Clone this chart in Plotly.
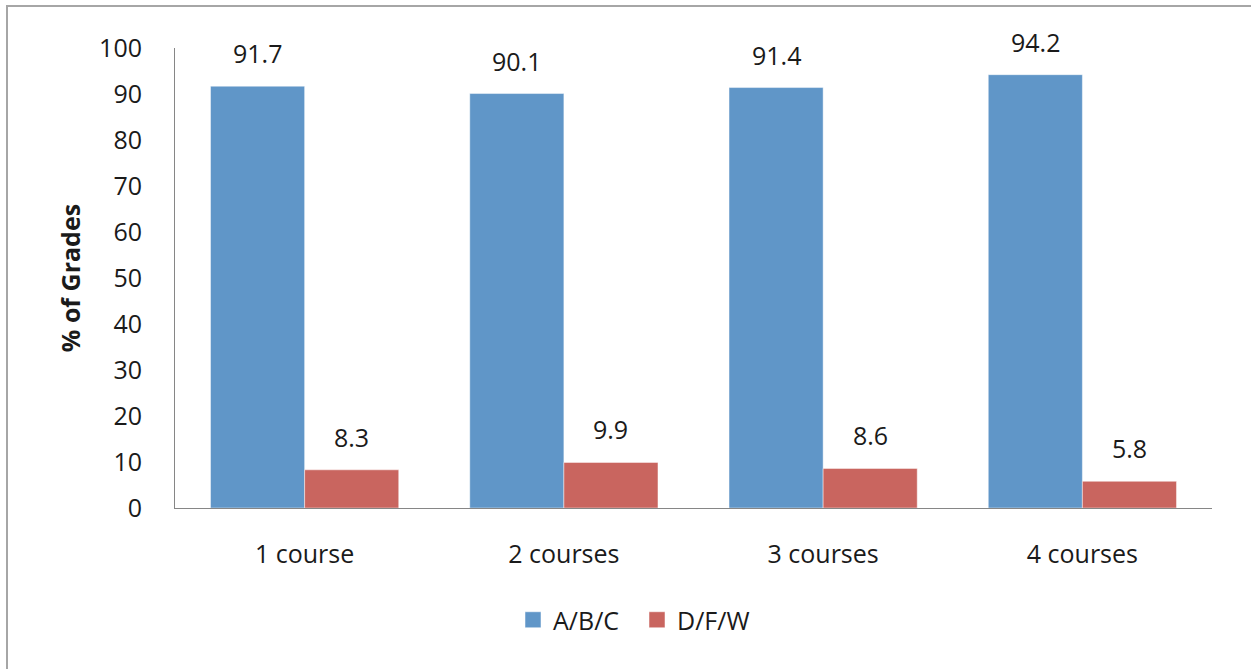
import plotly.graph_objects as go

categories = ["1 course", "2 courses", "3 courses", "4 courses"]
abc_values = [91.7, 90.1, 91.4, 94.2]
dfw_values = [8.3, 9.9, 8.6, 5.8]
series_names = ["A/B/C", "D/F/W"]
y_ticks = [0, 10, 20, 30, 40, 50, 60, 70, 80, 90, 100]

BLUE = "#6096C8"
RED = "#C9655F"
FONT = "Open Sans"
TEXT = "#1a1a1a"
FS = 25

W, H = 1251, 669
ML, MR, MT, MB = 175, 39, 48, 161
plot_w = W - ML - MR
plot_h = H - MT - MB

fig = go.Figure()
for name, vals, col in [(series_names[0], abc_values, BLUE), (series_names[1], dfw_values, RED)]:
    fig.add_trace(go.Bar(
        x=categories, y=vals, name=name, showlegend=False,
        marker=dict(color=col, line=dict(color="rgba(255,255,255,0.45)", width=1)),
    ))
    # legend entry with a larger square swatch
    fig.add_trace(go.Scatter(
        x=[None], y=[None], name=name, mode="markers",
        marker=dict(symbol="square", size=17, color=col,
                    line=dict(color="rgba(255,255,255,0.5)", width=1)),
    ))

# value labels above each bar
bar_px = plot_w / len(categories) * (1 - 0.274) / 2
for vals, sign in [(abc_values, -1), (dfw_values, 1)]:
    for c, v in zip(categories, vals):
        fig.add_annotation(
            x=c, y=v, text=f"{v:.1f}", showarrow=False,
            xshift=sign * bar_px / 2, yshift=33, yanchor="middle",
            font=dict(family=FONT, size=FS, color=TEXT),
        )

# outer frame of the chart area
px_to_x = lambda p: (p - ML) / plot_w
py_to_y = lambda p: 1 - (p - MT) / plot_h
fig.add_shape(
    type="rect", xref="paper", yref="paper",
    x0=px_to_x(7), x1=px_to_x(W + 20), y0=py_to_y(H + 20), y1=py_to_y(6),
    line=dict(color="#a6a6a6", width=2), fillcolor="rgba(0,0,0,0)",
)

fig.update_layout(
    width=W, height=H,
    margin=dict(l=ML, r=MR, t=MT, b=MB),
    paper_bgcolor="white", plot_bgcolor="white",
    barmode="group", bargap=0.274, bargroupgap=0,
    font=dict(family=FONT, size=FS, color=TEXT),
    showlegend=True,
    legend=dict(
        orientation="h", x=px_to_x(637), xanchor="center",
        y=py_to_y(620), yanchor="middle",
        font=dict(family=FONT, size=FS, color=TEXT),
        itemwidth=30, tracegroupgap=0, entrywidth=79,
    ),
    xaxis=dict(
        showline=True, linecolor="#868686", linewidth=1,
        ticks="", showgrid=False, ticklabelstandoff=24,
        tickfont=dict(family=FONT, size=FS, color=TEXT),
    ),
    yaxis=dict(
        range=[0, 100], tickvals=y_ticks,
        showline=True, linecolor="#868686", linewidth=1,
        ticks="", showgrid=False, zeroline=False, ticklabelstandoff=27,
        tickfont=dict(family=FONT, size=FS, color=TEXT),
        title=dict(text="<b>% of Grades</b>", standoff=11,
                   font=dict(family=FONT, size=FS, color=TEXT)),
    ),
)

fig.write_html("out.html")
